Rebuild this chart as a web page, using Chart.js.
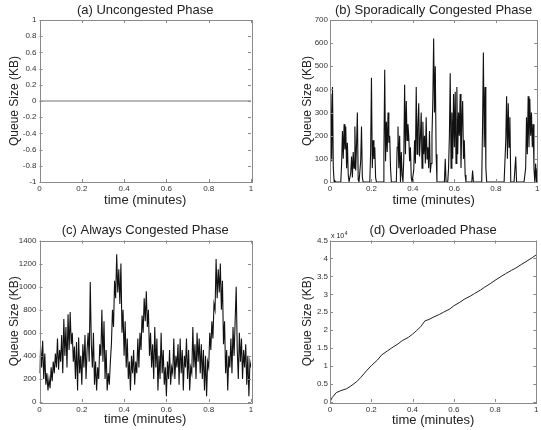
<!DOCTYPE html>
<html><head><meta charset="utf-8">
<script src="https://cdn.jsdelivr.net/npm/chart.js@4"></script>
<style>
html,body{margin:0;padding:0;background:#fff;}
#wrap{position:relative;width:541px;height:430px;overflow:hidden;background:#fff;}
canvas{position:absolute;}
</style></head><body>
<div id="wrap">
<canvas id="ca" width="270" height="215" style="left:0;top:0"></canvas>
<canvas id="cb" width="271" height="215" style="left:270px;top:0"></canvas>
<canvas id="cc" width="270" height="215" style="left:0;top:215px"></canvas>
<canvas id="cd" width="271" height="215" style="left:270px;top:215px"></canvas>
</div>
<script>
// ---------- data ----------
const titles = ["(a) Uncongested Phase", "(b) Sporadically Congested Phase", "(c) Always Congested Phase", "(d) Overloaded Phase"];
const xLabel = "time (minutes)";
const yLabel = "Queue Size (KB)";
const xTicks = [0, 0.2, 0.4, 0.6, 0.8, 1];
const aYTicks = [-1, -0.8, -0.6, -0.4, -0.2, 0, 0.2, 0.4, 0.6, 0.8, 1];
const bYTicks = [0, 100, 200, 300, 400, 500, 600, 700];
const cYTicks = [0, 200, 400, 600, 800, 1000, 1200, 1400];
const dYTicks = [0, 5000, 10000, 15000, 20000, 25000, 30000, 35000, 40000, 45000];
const dScale = 10000;

// (a) queue is always empty
const aTimes = [0, 0.25, 0.5, 0.75, 1];
const aValues = [0, 0, 0, 0, 0];

// (b) sampled every 0.004 min
const bStep = 0.004;
const bValues = [
 120,380,90,410,60,0,5,0,0,0,
 0,0,0,0,80,220,100,250,140,240,
 60,170,30,0,0,40,110,20,130,60,
 240,50,160,300,10,0,0,90,240,20,
 0,0,0,0,0,0,0,0,0,130,
 450,60,180,100,150,20,0,0,0,0,
 0,0,0,0,0,120,485,90,260,130,
 300,170,200,60,0,0,0,0,0,0,
 0,150,240,60,200,0,130,30,0,100,
 420,120,350,180,250,200,90,150,20,0,
 0,50,180,80,410,120,240,340,110,190,
 300,60,260,120,200,80,280,100,150,60,
 220,40,80,200,350,620,300,500,120,0,
 0,0,0,0,0,0,0,0,0,100,
 0,0,0,60,200,470,60,300,100,380,
 150,390,80,410,120,300,200,380,60,250,
 350,100,180,30,0,0,0,0,0,0,
 0,0,50,0,0,0,0,0,0,0,
 0,0,0,0,250,560,150,410,60,0,
 0,0,0,0,0,0,0,0,0,0,
 0,0,0,0,0,0,0,0,0,0,
 0,0,180,370,100,340,150,280,0,0,
 0,0,0,0,110,0,0,0,0,0,
 0,0,0,0,0,0,60,280,120,370,
 150,360,200,300,150,250,60,0,80,0,
 60
];

// (c) sampled every 0.005 min
const cStep = 0.005;
const cValues = [
 250,480,300,530,200,420,150,250,100,200,
 120,300,180,350,250,420,300,550,280,450,
 350,580,250,720,400,650,300,760,450,780,
 500,600,350,480,200,520,100,560,250,400,
 150,500,300,580,200,450,600,350,1040,500,
 300,600,150,350,100,300,200,500,400,800,
 350,700,200,450,100,250,150,350,500,800,
 650,1050,900,1280,950,1150,850,1200,600,800,
 400,700,300,550,200,350,100,400,250,450,
 150,350,250,550,300,600,450,750,600,900,
 700,960,650,800,400,600,300,500,200,650,
 300,550,100,400,200,600,250,450,150,300,
 50,350,200,450,150,300,250,550,200,400,
 300,500,150,550,250,450,100,400,300,550,
 200,450,100,300,250,650,300,500,200,600,
 350,550,250,500,200,450,100,400,50,350,
 300,600,450,700,550,850,800,1240,900,1150,
 950,1200,800,1050,500,700,250,450,100,400,
 300,550,250,650,400,700,1000,450,200,600,
 350,550,200,450,300,500,150,400,50,350,
 300
];

// (d) queue grows steadily (KB)
const dTimes = [0, 0.01, 0.03, 0.05, 0.08, 0.1, 0.13, 0.15, 0.18, 0.2, 0.23, 0.25, 0.28, 0.3, 0.33, 0.35, 0.38, 0.4, 0.42, 0.44, 0.46, 0.48, 0.5, 0.53, 0.55, 0.58, 0.6, 0.63, 0.65, 0.68, 0.7, 0.73, 0.75, 0.78, 0.8, 0.83, 0.85, 0.88, 0.9, 0.93, 0.95, 0.98, 1];
const dValues = [0, 1200, 2600, 3100, 3700, 4400, 5700, 6900, 8900, 10100, 11700, 13100, 14300, 15100, 16200, 17100, 18000, 18900, 19900, 21000, 22600, 23000, 23600, 24400, 25000, 25900, 26800, 27800, 28600, 29500, 30200, 31200, 32000, 33100, 33900, 35000, 35700, 36700, 37300, 38400, 39100, 40200, 41000];

// ---------- drawing ----------
const FONT = "'Liberation Sans', Arial, Helvetica, sans-serif";
const AXIS_COLOR = '#8a8a8a';
const TEXT_COLOR = '#222';

const boxPlugin = {
  id: 'matlabBox',
  afterDatasetsDraw(chart) {
    const {ctx, chartArea: a, scales} = chart;
    const o = chart.options.plugins.matlabBox || {};
    ctx.save();
    ctx.strokeStyle = AXIS_COLOR;
    ctx.lineWidth = 1;
    ctx.strokeRect(Math.round(a.left) + 0.5, Math.round(a.top) + 0.5, Math.round(a.right - a.left), Math.round(a.bottom - a.top));
    const tl = 3;
    ctx.beginPath();
    scales.x.ticks.forEach(t => {
      const px = Math.round(scales.x.getPixelForValue(t.value)) + 0.5;
      ctx.moveTo(px, a.bottom); ctx.lineTo(px, a.bottom - tl);
      ctx.moveTo(px, a.top); ctx.lineTo(px, a.top + tl);
    });
    scales.y.ticks.forEach(t => {
      const py = Math.round(scales.y.getPixelForValue(t.value)) + 0.5;
      ctx.moveTo(a.left, py); ctx.lineTo(a.left + tl, py);
      ctx.moveTo(a.right, py); ctx.lineTo(a.right - tl, py);
    });
    ctx.stroke();
    // panel title centred over the axes box
    ctx.fillStyle = TEXT_COLOR;
    ctx.textAlign = 'center';
    ctx.textBaseline = 'middle';
    ctx.font = '13px ' + FONT;
    ctx.fillText(o.title, (a.left + a.right) / 2, o.titleY);
    if (o.exponent) {
      ctx.textBaseline = 'alphabetic';
      ctx.textAlign = 'left';
      ctx.font = '7px ' + FONT;
      ctx.fillText('x 10', a.left + 1, a.top - 3);
      const w = ctx.measureText('x 10').width;
      ctx.font = '5px ' + FONT;
      ctx.fillText(o.exponent, a.left + 1 + w + 0.5, a.top - 6);
    }
    ctx.restore();
  }
};

function makeChart(id, g) {
  const xs = g.times;
  const data = g.values.map((v, i) => ({x: xs ? xs[i] : i * g.step, y: v}));
  return new Chart(document.getElementById(id), {
    type: 'line',
    data: { datasets: [{ data, borderColor: g.lineColor, borderWidth: g.lineWidth, pointRadius: 0, tension: 0, fill: false }] },
    plugins: [boxPlugin],
    options: {
      responsive: false,
      animation: false,
      devicePixelRatio: 1,
      layout: { padding: { left: 0, right: g.padRight, top: g.top, bottom: 0 } },
      plugins: {
        legend: { display: false },
        tooltip: { enabled: false },
        title: { display: false },
        matlabBox: { exponent: g.exponent, title: g.title, titleY: g.titleY }
      },
      scales: {
        x: {
          type: 'linear', min: 0, max: 1,
          grid: { display: false, drawTicks: false },
          border: { display: false },
          afterBuildTicks: s => { s.ticks = xTicks.map(v => ({ value: v })); },
          afterFit: s => { s.height = g.xH; },
          ticks: { color: '#333', font: { family: FONT, size: 8 }, padding: g.xTickPad, maxRotation: 0, autoSkip: false,
                   callback: v => String(+v.toFixed(2)) },
          title: { display: true, text: xLabel, color: TEXT_COLOR, font: { family: FONT, size: 13, lineHeight: 1.2 }, padding: { top: 0, bottom: g.xTitlePad } }
        },
        y: {
          type: 'linear', min: g.yTicks[0], max: g.yTicks[g.yTicks.length - 1],
          grid: { display: false, drawTicks: false },
          border: { display: false },
          afterBuildTicks: s => { s.ticks = g.yTicks.map(v => ({ value: v })); },
          afterFit: s => { s.width = g.yW; },
          ticks: { color: '#333', font: { family: FONT, size: 8 }, padding: g.yTickPad, autoSkip: false,
                   callback: v => String(+(v / (g.yDiv || 1)).toFixed(2)) },
          title: { display: true, text: yLabel, color: TEXT_COLOR, font: { family: FONT, size: 12, lineHeight: 1.2 }, padding: { top: g.yTitlePad, bottom: 0 } }
        }
      }
    }
  });
}

makeChart('ca', { title: titles[0], times: aTimes, values: aValues, lineColor: '#a0a0a0', lineWidth: 1.5,
  yTicks: aYTicks, yW: 39.5, xH: 33, padRight: 19, top: 20, titleY: 10,
  xTickPad: 1.5, yTickPad: 3, xTitlePad: 7.2, yTitlePad: 7.8 });

makeChart('cb', { title: titles[1], step: bStep, values: bValues, lineColor: '#111', lineWidth: 1.1,
  yTicks: bYTicks, yW: 60, xH: 33, padRight: 1, top: 20, titleY: 10,
  xTickPad: 1.5, yTickPad: 2, xTitlePad: 7.2, yTitlePad: 30.8 });

makeChart('cc', { title: titles[2], step: cStep, values: cValues, lineColor: '#111', lineWidth: 1.1,
  yTicks: cYTicks, yW: 39.5, xH: 28, padRight: 19, top: 25.5, titleY: 15,
  xTickPad: 2.5, yTickPad: 3, xTitlePad: 3.2, yTitlePad: 7.8 });

makeChart('cd', { title: titles[3], times: dTimes, values: dValues, lineColor: '#222', lineWidth: 1,
  yTicks: dYTicks, yDiv: dScale, exponent: '4', yW: 60, xH: 28, padRight: 1, top: 25.5, titleY: 15,
  xTickPad: 2.5, yTickPad: 2, xTitlePad: 1.5, yTitlePad: 30.8 });
</script>
</body></html>
